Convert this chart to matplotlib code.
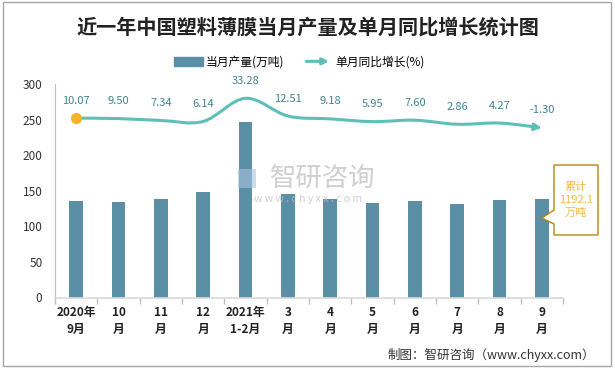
import matplotlib
matplotlib.use("Agg")
import matplotlib.pyplot as plt
from matplotlib.patches import Patch, FancyArrowPatch, Polygon, Rectangle
from matplotlib.path import Path
from matplotlib.legend_handler import HandlerBase
from matplotlib.ticker import FixedLocator

plt.rcParams["font.family"] = ["Noto Sans CJK SC", "DejaVu Sans"]

months = ["2020年\n9月", "10\n月", "11\n月", "12\n月", "2021年\n1-2月", "3\n月",
          "4\n月", "5\n月", "6\n月", "7\n月", "8\n月", "9\n月"]
output = [136, 134, 139, 148, 246, 146, 139, 133, 136, 132, 137, 139]
growth = [10.07, 9.50, 7.34, 6.14, 33.28, 12.51, 9.18, 5.95, 7.60, 2.86, 4.27, -1.30]
total_label = "累计\n1192.1\n万吨"

BAR = "#5b8fa5"
LINE = "#5ebfb8"
LABEL = "#3f8592"
GREY = "#bfbfbf"


class ArrowHandler(HandlerBase):
    def create_artists(self, legend, orig, xdescent, ydescent, width, height, fontsize, trans):
        y = height / 2 - ydescent
        arrow = FancyArrowPatch((-xdescent, y), (width - xdescent, y), arrowstyle="-|>",
                                mutation_scale=9, color=LINE, lw=2.2, transform=trans)
        return [arrow]


def smooth_path(xs, ys):
    # bezier segments through every point, like a spreadsheet's smoothed line
    pts = list(zip(xs, ys))
    verts = [pts[0]]
    codes = [Path.MOVETO]
    for i in range(len(pts) - 1):
        p0 = pts[i - 1] if i > 0 else pts[i]
        p1 = pts[i]
        p2 = pts[i + 1]
        p3 = pts[i + 2] if i + 2 < len(pts) else pts[i + 1]
        c1 = (p1[0] + (p2[0] - p0[0]) / 6, p1[1] + (p2[1] - p0[1]) / 6)
        c2 = (p2[0] - (p3[0] - p1[0]) / 6, p2[1] - (p3[1] - p1[1]) / 6)
        verts += [c1, c2, p2]
        codes += [Path.CURVE4] * 3
    return Path(verts, codes)


fig = plt.figure(figsize=(6.15, 3.71), dpi=100)
ax = fig.add_axes([55 / 615, 1 - 297.5 / 371, 508 / 615, 213.5 / 371])
x = list(range(len(months)))

ax.bar(x, output, width=0.33, color=BAR, zorder=2)
ax.set_xlim(-0.5, len(months) - 0.5)
ax.set_ylim(0, 300)
ax.set_yticks(range(0, 301, 50))
ax.set_xticks(x)
ax.set_xticklabels(months, fontsize=8.5, fontweight="bold", color="#222222", linespacing=1.45)
ax.xaxis.set_minor_locator(FixedLocator([i - 0.5 for i in range(len(months) + 1)]))
ax.tick_params(axis="x", which="major", length=0, pad=6)
ax.tick_params(axis="x", which="minor", length=4, color=GREY, width=1)
ax.tick_params(axis="y", length=0, labelsize=8.5, labelcolor="#333333", pad=9)
for side in ["top", "right"]:
    ax.spines[side].set_visible(False)
ax.spines["left"].set_color(GREY)
ax.spines["bottom"].set_color("#d9d9d9")
ax.spines["bottom"].set_linewidth(1.2)

ax2 = ax.twinx()
ax2.set_ylim(-200, 50)
ax2.axis("off")
ax2.add_patch(FancyArrowPatch(path=smooth_path(x, growth), arrowstyle="-|>", mutation_scale=10,
                              color=LINE, lw=2.2, zorder=3))
ax2.plot(x[0], growth[0], "o", color="#f5b325", ms=7, zorder=4)
for i, v in zip(x, growth):
    ax2.annotate(f"{v:.2f}", (i, v), xytext=(0, 9), textcoords="offset points",
                 ha="center", va="bottom", fontsize=8, color=LABEL)

handles = [Patch(color=BAR), plt.Line2D([], [], color=LINE)]
fig.legend(handles, ["当月产量(万吨)", "单月同比增长(%)"], loc="center",
           bbox_to_anchor=(0.487, 0.833), ncol=2, frameon=False, fontsize=8.5,
           handlelength=2.4, handleheight=0.8, columnspacing=1.6, handletextpad=0.3,
           handler_map={plt.Line2D: ArrowHandler()})

fig.text(0.5, 1 - 27 / 371, "近一年中国塑料薄膜当月产量及单月同比增长统计图", ha="center", va="center",
         fontsize=14.5, fontweight="bold", color="#222222")

# watermark
fig.text(323 / 615, 1 - 178 / 371, "智研咨询", ha="center", va="center", fontsize=19,
         color="#c4c4c4", alpha=0.8)
fig.text(308 / 615, 1 - 199 / 371, "w w w . c h y x x . c o m", ha="center", va="center",
         fontsize=7.5, color="#c4c4c4", alpha=0.8)
fig.patches.append(Rectangle((238 / 615, 1 - 188 / 371), 18 / 615, 19 / 371,
                             transform=fig.transFigure, facecolor="#a9c4e0", edgecolor="none", alpha=0.6))

# cumulative callout
box_px = [(554, 165), (598, 165), (598, 235), (554, 235), (554, 224), (542, 218), (554, 210)]
fig.patches.append(Polygon([(px / 615, 1 - py / 371) for px, py in box_px], closed=True,
                           transform=fig.transFigure, facecolor="white", edgecolor="#b8860b", lw=1, zorder=5))
fig.text(576 / 615, 1 - 200 / 371, total_label, ha="center", va="center", fontsize=8,
         color="#f5b94a", linespacing=1.35, zorder=6)

fig.text(595 / 615, 1 - 355 / 371, "制图：智研咨询（www.chyxx.com）", ha="right", va="center",
         fontsize=9, color="#333333")

fig.patches.append(Rectangle((3 / 615, 5 / 371), 608 / 615, 364 / 371, transform=fig.transFigure,
                             facecolor="none", edgecolor="#a6a6a6", lw=1))

fig.savefig("out.png", dpi=100)
